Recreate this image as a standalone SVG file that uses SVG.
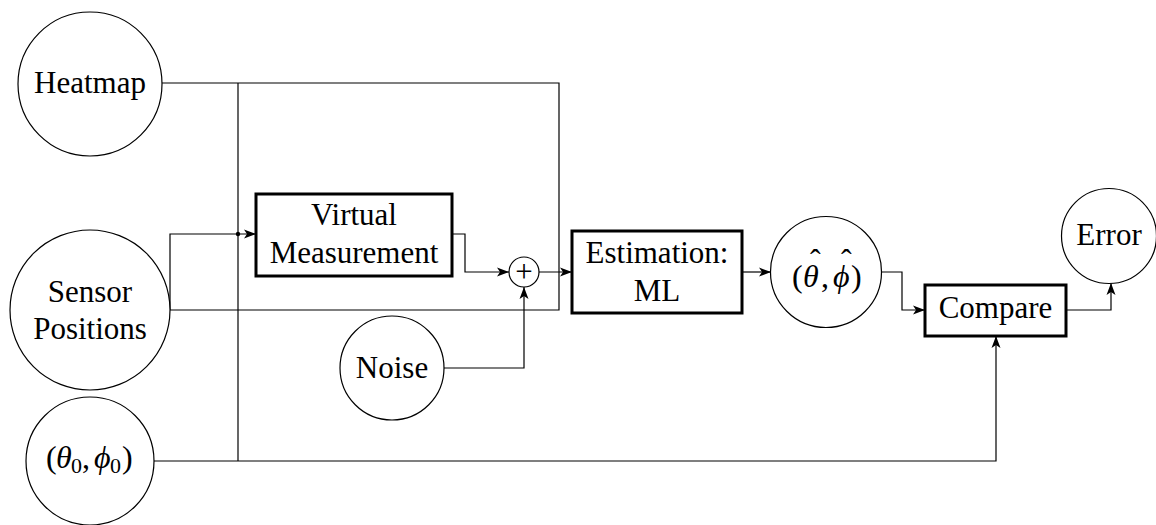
<svg xmlns="http://www.w3.org/2000/svg" width="1156" height="525" viewBox="0 0 1156 525">
  <style>
    .lbl { font-family: "Liberation Serif", "Times New Roman", serif; font-size: 31px; fill: #000; text-anchor: middle; }
    .math { font-family: "Liberation Serif", "DejaVu Serif", serif; font-size: 32px; fill: #000; }
    .mi { font-style: italic; }
    .sub { font-size: 22px; }
    .circ { fill: #fff; stroke: #000; stroke-width: 1.2; }
    .box { fill: #fff; stroke: #000; stroke-width: 3; }
    .wire { fill: none; stroke: #000; stroke-width: 1.2; }
    .arr { marker-end: url(#tip); }
  </style>
  <defs>
    <marker id="tip" markerUnits="userSpaceOnUse" markerWidth="12" markerHeight="10" viewBox="0 0 12 10" refX="12" refY="5" orient="auto">
      <path d="M0,0.5 L12,5 L0,9.5 L3,5 Z" fill="#000"/>
    </marker>
  </defs>

  <!-- connectors -->
  <g id="connectors">
    <!-- heatmap bus and sensor positions bus -->
    <path class="wire" d="M162,83 H559 V310 H170"/>
    <!-- shared vertical feed -->
    <path class="wire" d="M238,83 V461"/>
    <!-- ground truth to compare -->
    <path class="wire arr" d="M154,461 H996 V336"/>
    <!-- sensor positions to virtual measurement -->
    <path class="wire arr" d="M170,310 V234 H256"/>
    <circle cx="238" cy="234" r="2.2" fill="#000"/>
    <!-- virtual measurement to summing junction -->
    <path class="wire arr" d="M452,234 H465 V272 H509"/>
    <!-- summing junction to estimator -->
    <path class="wire arr" d="M539,272 H572"/>
    <!-- noise to summing junction -->
    <path class="wire arr" d="M444,368 H524 V287"/>
    <!-- estimator to estimate -->
    <path class="wire arr" d="M742,272 H771"/>
    <!-- estimate to compare -->
    <path class="wire arr" d="M882,272 H902 V310 H925"/>
    <!-- compare to error -->
    <path class="wire arr" d="M1066,310 H1111 V283"/>
  </g>

  <g id="heatmap">
    <circle class="circ" cx="90" cy="84" r="72"/>
    <text class="lbl" x="90" y="93">Heatmap</text>
  </g>

  <g id="sensor-positions">
    <circle class="circ" cx="90" cy="310" r="80"/>
    <text class="lbl" x="90" y="302">Sensor</text>
    <text class="lbl" x="90" y="339">Positions</text>
  </g>

  <g id="ground-truth">
    <circle class="circ" cx="90" cy="461" r="64"/>
    <text class="math" y="468"><tspan x="46">(</tspan><tspan class="mi" x="56">θ</tspan><tspan class="sub" x="71" dy="5">0</tspan><tspan x="82" dy="-5">,</tspan><tspan class="mi" x="94">ϕ</tspan><tspan class="sub" x="110" dy="5">0</tspan><tspan x="122" dy="-5">)</tspan></text>
  </g>

  <g id="virtual-measurement">
    <rect class="box" x="256" y="194" width="196" height="82"/>
    <text class="lbl" x="354" y="225">Virtual</text>
    <text class="lbl" x="354" y="263">Measurement</text>
  </g>

  <g id="sum">
    <circle class="circ" cx="524" cy="272" r="15"/>
    <text class="lbl" x="524" y="282" font-size="36">+</text>
  </g>

  <g id="noise">
    <circle class="circ" cx="392" cy="368" r="52"/>
    <text class="lbl" x="392" y="378">Noise</text>
  </g>

  <g id="estimation">
    <rect class="box" x="572" y="231" width="170" height="82"/>
    <text class="lbl" x="657" y="263">Estimation:</text>
    <text class="lbl" x="657" y="301">ML</text>
  </g>

  <g id="estimate">
    <circle class="circ" cx="826" cy="272" r="55.5"/>
    <text class="math" y="287"><tspan x="792">(</tspan><tspan class="mi" x="803">θ</tspan><tspan x="810" dy="-16">ˆ</tspan><tspan x="821" dy="16">,</tspan><tspan class="mi" x="833">ϕ</tspan><tspan x="841" dy="-16">ˆ</tspan><tspan x="851" dy="16">)</tspan></text>
  </g>

  <g id="compare">
    <rect class="box" x="925" y="285" width="141" height="51"/>
    <text class="lbl" x="995.5" y="318">Compare</text>
  </g>

  <g id="error">
    <circle class="circ" cx="1109" cy="236" r="47.5"/>
    <text class="lbl" x="1109" y="245">Error</text>
  </g>
</svg>
